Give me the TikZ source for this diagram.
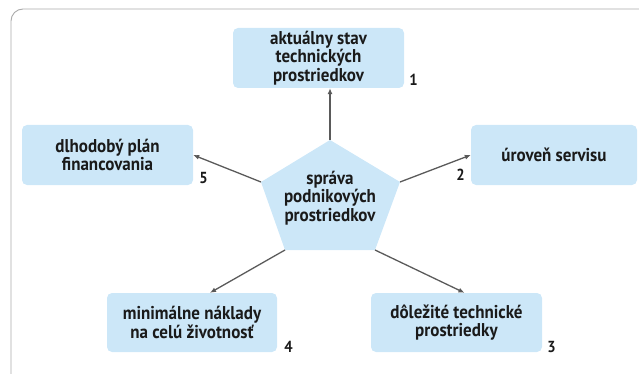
\documentclass[tikz,border=0pt]{standalone}
\usepackage{fontspec}
\setmainfont{PT Sans}[FakeStretch=0.92]
\usepackage{tikz}
\usetikzlibrary{arrows.meta, positioning, calc}

\definecolor{boxblue}{RGB}{204,231,248}
\definecolor{framegray}{RGB}{170,170,170}
\definecolor{arrowgray}{RGB}{90,90,90}
\definecolor{inkblack}{RGB}{26,26,26}

\begin{document}
\begin{tikzpicture}[x=1pt, y=-1pt,
    goal/.style={fill=boxblue, rounded corners=5pt, minimum width=171pt, minimum height=60pt,
      align=center, inner sep=0pt, text=inkblack, font=\bfseries\fontsize{18.5}{18.5}\selectfont},
    num/.style={inner sep=0pt, text=inkblack, font=\bfseries\fontsize{16}{16}\selectfont},
    link/.style={draw=arrowgray, line width=1.3pt, -{Latex[length=6pt, width=5pt, fill=inkblack]}}]
  \useasboundingbox (0,0) rectangle (639,374);
  \clip (0,0) rectangle (639,374);
  \draw[framegray, line width=0.9pt, rounded corners=12pt] (11,9) rectangle (660,395);

  \node[goal] (box1) at (318.5,58) {aktuálny stav\\technických\\prostriedkov};
  \node[goal, minimum width=166pt] (box2) at (554,155) {úroveň servisu};
  \node[goal, minimum height=59pt] (box3) at (456.5,322.5) {dôležité technické\\prostriedky};
  \node[goal, minimum width=170pt, minimum height=59pt] (box4) at (192,322.5) {minimálne náklady\\na celú životnosť};
  \node[goal] (box5) at (107.5,155) {dlhodobý plán\\financovania};

  \coordinate (p1) at (330,140);
  \coordinate (p2) at (400,182);
  \coordinate (p3) at (375,250);
  \coordinate (p4) at (285,250);
  \coordinate (p5) at (261,182);
  \fill[boxblue] (p1) -- (p2) -- (p3) -- (p4) -- (p5) -- cycle;
  \node[align=center, inner sep=0pt, text=inkblack, font=\bfseries\fontsize{18.5}{18.5}\selectfont]
    (hub) at (330,198) {správa\\podnikových\\prostriedkov};

  \node[num, anchor=base west] (n1) at ([xshift=5pt, yshift=3pt]box1.south east) {1};
  \node[num, anchor=base east] (n2) at ([xshift=-6pt, yshift=5pt]box2.south west) {2};
  \node[num, anchor=base west] (n3) at ([xshift=5pt]box3.south east) {3};
  \node[num, anchor=base west] (n4) at ([xshift=7pt]box4.south east) {4};
  \node[num, anchor=base west] (n5) at ([xshift=6pt, yshift=1.5pt]box5.south east) {5};

  \draw[link] (p1) -- (p1 |- box1.south);
  \draw[link] (p2) -- (box2.west);
  \draw[link] (p3) -- ([xshift=8pt]box3.north);
  \draw[link] (p4) -- ([xshift=18pt]box4.north);
  \draw[link] (p5) -- (box5.east);
\end{tikzpicture}
\end{document}
